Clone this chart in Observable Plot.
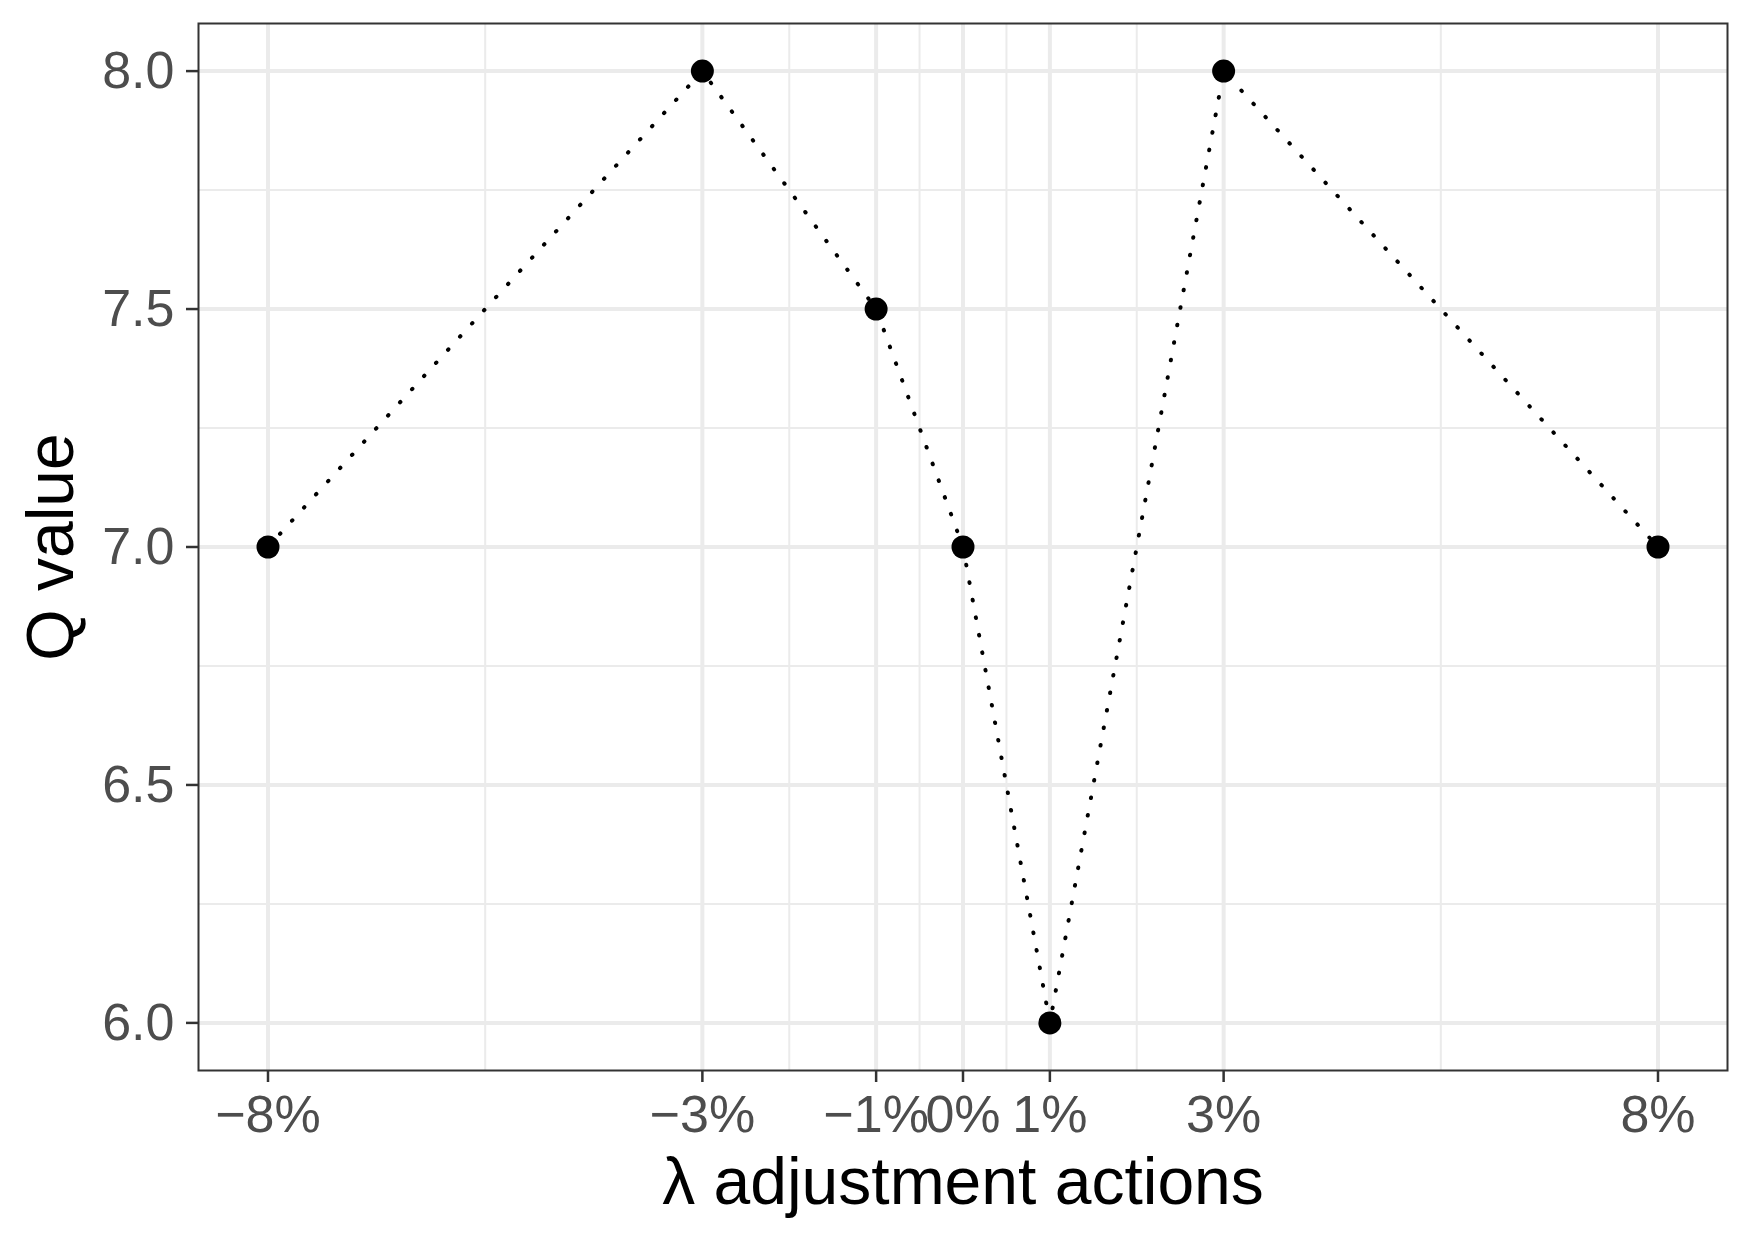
<!DOCTYPE html>
<html>
<head>
<meta charset="utf-8">
<script src="https://cdn.jsdelivr.net/npm/d3@7"></script>
<script src="https://cdn.jsdelivr.net/npm/@observablehq/plot@0.6"></script>
<style>
  html, body { margin: 0; padding: 0; background: #fff; }
  #chart { width: 1750px; height: 1250px; }
</style>
</head>
<body>
<div id="chart"></div>
<script>
// Data
const actions = [-8, -3, -1, 0, 1, 3, 8];        // λ adjustment (%)
const qValues = [7.0, 8.0, 7.5, 7.0, 6.0, 8.0, 7.0];
const xMajor = [-8, -3, -1, 0, 1, 3, 8];
const xMinor = [-5.5, -2, -0.5, 0.5, 2, 5.5];
const yMajor = [6.0, 6.5, 7.0, 7.5, 8.0];
const yMinor = [6.25, 6.75, 7.25, 7.75];
const xTitle = "λ adjustment actions";
const yTitle = "Q value";

const data = actions.map((x, i) => ({x, y: qValues[i]}));
const fmtPct = d => (d < 0 ? "\u2212" : "") + Math.abs(d) + "%";

const chart = Plot.plot({
  width: 1750,
  height: 1250,
  marginLeft: 198,
  marginRight: 23,
  marginTop: 23,
  marginBottom: 180,
  style: {fontFamily: "'Liberation Sans', Arial, Helvetica, sans-serif", background: "#fff"},
  x: {type: "linear", domain: [-8.8, 8.8]},
  y: {type: "linear", domain: [5.9, 8.1]},
  marks: [
    Plot.ruleX(xMinor, {stroke: "#EBEBEB", strokeWidth: 2}),
    Plot.ruleY(yMinor, {stroke: "#EBEBEB", strokeWidth: 2}),
    Plot.ruleX(xMajor, {stroke: "#EBEBEB", strokeWidth: 4}),
    Plot.ruleY(yMajor, {stroke: "#EBEBEB", strokeWidth: 4}),
    Plot.line(data, {x: "x", y: "y", stroke: "black", strokeWidth: 4, strokeLinecap: "round", strokeDasharray: "0.6,17.2"}),
    Plot.dot(data, {x: "x", y: "y", r: 11.5, fill: "black", stroke: "none"}),
    Plot.frame({stroke: "#333333", strokeWidth: 2}),
    Plot.axisX({ticks: xMajor, tickFormat: fmtPct, tickSize: 12, tickPadding: 13,
      stroke: "#333333", strokeWidth: 2.5, fill: "#4D4D4D", fontSize: 52, label: null}),
    Plot.axisY({ticks: yMajor, tickFormat: d3.format(".1f"), tickSize: 12, tickPadding: 12,
      stroke: "#333333", strokeWidth: 2.5, fill: "#4D4D4D", fontSize: 52, label: null}),
    Plot.text([xTitle], {text: d => d, frameAnchor: "bottom", lineAnchor: "bottom", textAnchor: "middle", dy: 133,
      fontSize: 66, fill: "black"}),
    Plot.text([yTitle], {text: d => d, frameAnchor: "left", lineAnchor: "bottom", textAnchor: "middle", rotate: -90, dx: -126,
      fontSize: 66, fill: "black"})
  ]
});
document.getElementById("chart").appendChild(chart);
</script>
</body>
</html>
